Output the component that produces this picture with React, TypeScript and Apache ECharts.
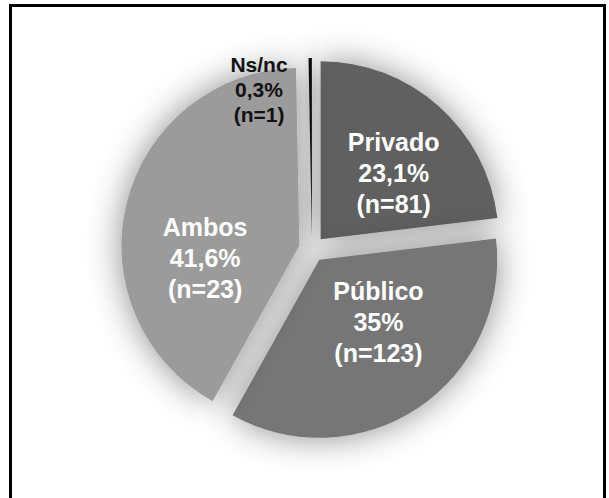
import React, { useEffect, useRef } from "react";
import * as echarts from "echarts";

const categories = ["Privado", "Público", "Ambos", "Ns/nc"];
const percents = [23.1, 35, 41.6, 0.3];
const percentLabels = ["23,1%", "35%", "41,6%", "0,3%"];
const counts = [81, 123, 23, 1];
const colors = ["#606060", "#767676", "#9b9b9b", "#111111"];
const labelShifts: [number, number][] = [[12, 3], [8, -14], [-5, 34], [-52, -55]];

export default function App() {
  const ref = useRef<HTMLDivElement>(null);
  useEffect(() => {
    if (!ref.current) return;
    const chart = echarts.init(ref.current, undefined, { renderer: "svg" });
    const data = categories.map((name, i) => {
      const isSmall = i === 3;
      return {
        name,
        value: percents[i],
        selected: true,
        itemStyle: { color: colors[i] },
        label: {
          color: isSmall ? "#111" : "#ffffff",
          fontSize: isSmall ? 21 : 25,
          lineHeight: isSmall ? 25 : 31,
        },
      };
    });
    chart.setOption({
      animation: false,
      backgroundColor: "#ffffff",
      graphic: [
        {
          type: "rect",
          shape: { x: 10.5, y: 5.5, width: 594, height: 530 },
          style: { fill: "none", stroke: "#000", lineWidth: 3 },
          z: 100,
        },
      ],
      series: [
        {
          type: "pie",
          center: [312, 249],
          radius: [0, 178],
          startAngle: 90,
          clockwise: true,
          selectedMode: "multiple",
          selectedOffset: 13,
          avoidLabelOverlap: false,
          itemStyle: {
            shadowBlur: 34,
            shadowColor: "rgba(0,0,0,0.45)",
            borderWidth: 0,
          },
          select: { itemStyle: { borderWidth: 0 } },
          emphasis: { disabled: true },
          label: {
            show: true,
            position: "inside",
            fontFamily: "Liberation Sans, Arial, sans-serif",
            fontWeight: "bold",
            align: "center",
            formatter: (p: any) =>
              `${categories[p.dataIndex]}\n${percentLabels[p.dataIndex]}\n(n=${counts[p.dataIndex]})`,
          },
          labelLayout: (p: any) => ({
            dx: labelShifts[p.dataIndex][0],
            dy: labelShifts[p.dataIndex][1],
          }),
          labelLine: { show: false },
          data,
        },
      ],
    });
    return () => chart.dispose();
  }, []);
  return (
    <div
      ref={ref}
      style={{ position: "absolute", left: 0, top: 0, width: 609, height: 498 }}
    />
  );
}
